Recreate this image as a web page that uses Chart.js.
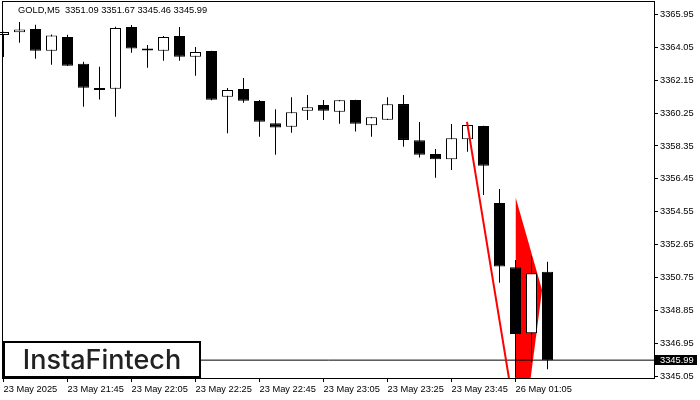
<!DOCTYPE html>
<html>
<head>
<meta charset="utf-8">
<script src="https://cdn.jsdelivr.net/npm/chart.js@4.4.1/dist/chart.umd.min.js"></script>
<style>
  html, body { margin: 0; padding: 0; background: #fff; }
  canvas { display: block; }
</style>
</head>
<body>
<canvas id="goldchart" width="700" height="400"></canvas>
<script>
var symbol = 'GOLD,M5'

// M5 candles, 23 May 21:25 .. 26 May 01:15
var opens  = [3364.76, 3364.91, 3365.10, 3363.85, 3364.64, 3363.10, 3361.70, 3361.66, 3365.22, 3363.97,
              3363.85, 3364.70, 3363.50, 3363.83, 3361.19, 3361.64, 3360.95, 3359.66, 3359.46, 3360.39,
              3360.72, 3360.33, 3361.00, 3359.54, 3359.87, 3360.77, 3358.68, 3357.89, 3357.58, 3358.74,
              3359.50, 3355.06, 3351.35, 3347.54, 3351.09]
var highs  = [3364.95, 3365.50, 3365.35, 3364.78, 3364.77, 3363.21, 3362.93, 3365.23, 3365.33, 3364.18,
              3364.70, 3365.22, 3364.06, 3363.85, 3361.70, 3362.27, 3361.00, 3360.47, 3361.16, 3361.29,
              3361.00, 3361.00, 3361.02, 3360.03, 3361.16, 3361.29, 3359.74, 3358.18, 3359.62, 3359.72,
              3359.52, 3355.87, 3351.77, 3352.00, 3351.67]
var lows   = [3363.49, 3364.31, 3363.39, 3363.04, 3362.96, 3360.62, 3361.04, 3360.04, 3363.73, 3362.87,
              3363.27, 3363.27, 3362.41, 3360.99, 3359.08, 3360.85, 3358.89, 3357.85, 3359.12, 3359.85,
              3359.85, 3359.64, 3359.18, 3358.89, 3359.85, 3358.31, 3357.68, 3356.52, 3356.97, 3358.02,
              3355.52, 3350.46, 3344.98, 3345.90, 3345.46]
var closes = [3364.93, 3365.08, 3363.85, 3364.72, 3362.98, 3361.71, 3361.58, 3365.16, 3363.97, 3363.86,
              3364.64, 3363.50, 3363.77, 3361.02, 3361.58, 3360.96, 3359.75, 3359.41, 3360.29, 3360.58,
              3360.39, 3360.99, 3359.64, 3360.01, 3360.76, 3358.70, 3357.85, 3357.58, 3358.79, 3359.56,
              3357.21, 3351.39, 3347.50, 3351.00, 3345.99]

var xTickIdx = [0, 4, 8, 12, 16, 20, 24, 28, 32]
var xLabels  = ['23 May 2025', '23 May 21:45', '23 May 22:05', '23 May 22:25', '23 May 22:45',
                '23 May 23:05', '23 May 23:25', '23 May 23:45', '26 May 01:05']
var yTicks   = [3345.05, 3346.95, 3348.85, 3350.75, 3352.65, 3354.55, 3356.45, 3358.35,
                3360.25, 3362.15, 3364.05, 3365.95]

// pattern marks (red)
var patternLine   = [{x: 28.97, y: 3359.74}, {x: 31.6, y: 3344.9}]
var pennantTop    = [{x: 32.0, y: 3355.41}, {x: 33.66, y: 3350.04}]
var pennantBottom = [{x: 32.0, y: 3338.21}, {x: 33.66, y: 3350.04}]

var yMin = 3344.96, yMax = 3366.66
var xMin = -0.03125, xMax = 40.65625

var last = closes.length - 1
var lastClose = closes[last]
var axisFont = { family: "'Liberation Sans', Arial, sans-serif", size: 9.3 }

var bodyData = opens.map((o, i) => ({ x: i, y: [o, closes[i]] }))
var wickData = lows.map((l, i) => ({ x: i, y: [l, highs[i]] }))
var bodyColors = opens.map((o, i) => closes[i] >= o ? '#ffffff' : '#000000')
var priceLine = [{ x: xMin, y: lastClose }, { x: xMax, y: lastClose }]

const chartDecor = {
  id: 'chartDecor',
  afterDraw(chart) {
    const ctx = chart.ctx
    const area = chart.chartArea
    const ys = chart.scales.y
    ctx.save()

    // frame
    ctx.strokeStyle = '#000'
    ctx.lineWidth = 1
    ctx.strokeRect(2.5, 1.5, area.right - 2, area.bottom - 1)

    // header
    ctx.fillStyle = '#000'
    ctx.font = axisFont.size + 'px ' + axisFont.family
    ctx.textAlign = 'left'
    ctx.textBaseline = 'alphabetic'
    let header = symbol + '  ' + [opens[last], highs[last], lows[last], closes[last]].map(v => v.toFixed(2)).join(' ')
    ctx.fillText(header, 18, 13.3)

    // logo box
    ctx.fillStyle = '#fff'
    ctx.fillRect(3, 341, 198, 37)
    ctx.lineWidth = 2
    ctx.strokeStyle = '#000'
    ctx.strokeRect(4, 342, 196, 35)
    ctx.fillStyle = '#222'
    ctx.font = '500 27px Inter'
    ctx.textAlign = 'center'
    ctx.fillText('InstaFintech', 102, 369)

    // current price tag
    let py = ys.getPixelForValue(lastClose)
    ctx.fillStyle = '#000'
    ctx.fillRect(655, Math.round(py) - 5, 42, 10)
    ctx.fillStyle = '#fff'
    ctx.font = axisFont.size + 'px ' + axisFont.family
    ctx.textAlign = 'left'
    ctx.textBaseline = 'middle'
    ctx.fillText(lastClose.toFixed(2), 660, py + 0.5)

    ctx.restore()
  }
}

new Chart(document.getElementById('goldchart'), {
  type: 'bar',
  data: {
    datasets: [
      { type: 'line', data: pennantTop, borderColor: 'rgba(0,0,0,0)', borderWidth: 0, pointRadius: 0, fill: false, order: 10 },
      { type: 'line', data: pennantBottom, borderColor: 'rgba(0,0,0,0)', borderWidth: 0, pointRadius: 0, fill: '-1', backgroundColor: '#ff0000', order: 9 },
      { type: 'line', data: priceLine, borderColor: '#000', borderWidth: 1, pointRadius: 0, fill: false, order: 8 },
      { type: 'bar', data: wickData, backgroundColor: '#000', borderWidth: 0, barThickness: 1, grouped: false, inflateAmount: 0, clip: false, order: 4 },
      { type: 'bar', data: bodyData, backgroundColor: bodyColors, borderColor: '#000', borderWidth: 1, borderSkipped: false,
        barThickness: 11, grouped: false, inflateAmount: 0, clip: false, order: 3 },
      { type: 'line', data: patternLine, borderColor: '#ff0000', borderWidth: 2, pointRadius: 0, fill: false, order: 0 }
    ]
  },
  options: {
    responsive: false,
    animation: false,
    layout: { padding: { left: 3, top: 2, right: 0, bottom: 0 } },
    plugins: {
      legend: { display: false },
      tooltip: { enabled: false }
    },
    scales: {
      x: {
        type: 'linear',
        min: xMin,
        max: xMax,
        offset: false,
        border: { display: false },
        grid: { offset: false, drawOnChartArea: false, drawTicks: true, tickLength: 4, tickColor: '#000' },
        ticks: {
          autoSkip: false, maxRotation: 0, minRotation: 0, align: 'start', padding: 2,
          color: '#000', font: axisFont,
          callback: (v, i) => xLabels[i]
        },
        afterBuildTicks: s => { s.ticks = xTickIdx.map(v => ({ value: v })) },
        afterFit: s => { s.height = 22; s.paddingLeft = 0; s.paddingRight = 0 }
      },
      y: {
        position: 'right',
        min: yMin,
        max: yMax,
        beginAtZero: false,
        border: { display: false },
        grid: { drawOnChartArea: false, drawTicks: true, tickLength: 4, tickColor: '#000' },
        ticks: { padding: 2, color: '#000', font: axisFont, callback: v => v.toFixed(2) },
        afterBuildTicks: s => { s.ticks = yTicks.map(v => ({ value: v })) },
        afterFit: s => { s.width = 46; s.paddingTop = 0; s.paddingBottom = 0 }
      }
    }
  },
  plugins: [chartDecor]
})
</script>
</body>
</html>
